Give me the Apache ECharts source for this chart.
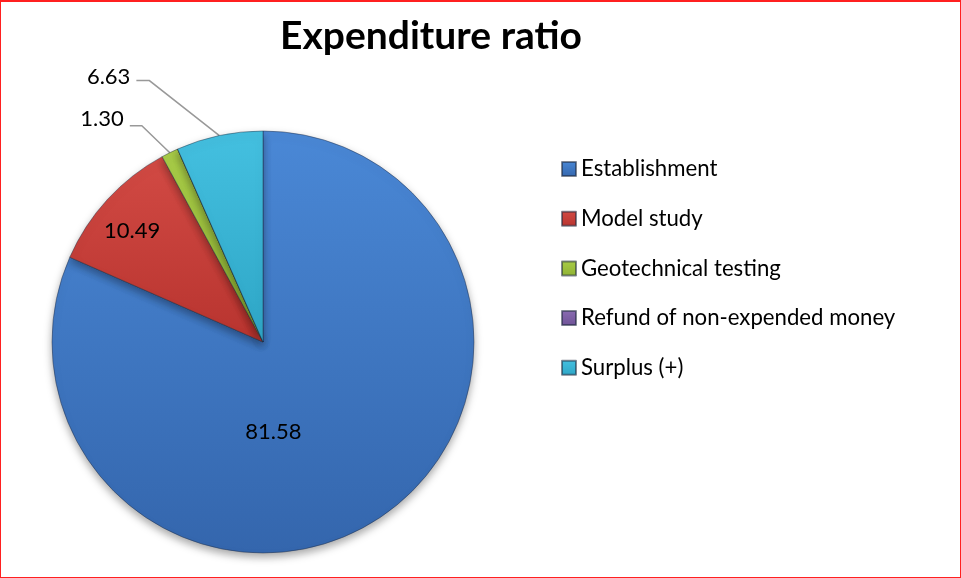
<!DOCTYPE html>
<html>
<head>
<meta charset="utf-8">
<script src="https://cdn.jsdelivr.net/npm/echarts@6/dist/echarts.min.js"></script>
<style>
  html, body { margin: 0; padding: 0; background: #fff; }
  #chart {
    width: 961px; height: 578px; box-sizing: border-box;
    border: 1px solid #ff2020; border-top-width: 2px;
  }
</style>
</head>
<body>
<div id="chart"></div>
<script>
// data
const categories = ['Establishment', 'Model study', 'Geotechnical testing', 'Refund of non-expended money', 'Surplus (+)'];
const values = [81.58, 10.49, 1.30, 0, 6.63];
const colorsTop = ['#4a88d6', '#d24a44', '#a8cc48', '#8a6cb2', '#44c0e0'];
const colorsBottom = ['#3466ad', '#b8342f', '#8fb233', '#6e5296', '#2ea6c6'];

// label tweaks (relative offsets, matching Excel's placement)
const insideOffsets = { 0: [-49, -1], 1: [-51, -38] };

const chart = echarts.init(document.getElementById('chart'));
const FONT = 'Lato';

const data = categories.map(function (name, i) {
  const item = {
    name: name,
    value: values[i],
    itemStyle: {
      color: {
        type: 'linear', x: 0, y: 0, x2: 0, y2: 1,
        colorStops: [
          { offset: 0, color: colorsTop[i] },
          { offset: 1, color: colorsBottom[i] }
        ]
      }
    }
  };
  if (values[i] === 0) {
    item.label = { show: false };
    item.labelLine = { show: false };
  } else if (insideOffsets[i]) {
    item.label = { position: 'inside', offset: insideOffsets[i] };
    item.labelLine = { show: false };
  }
  return item;
});

chart.setOption({
  animation: false,
  title: {
    text: 'Expenditure ratio',
    left: 425, top: 10, textAlign: 'center',
    textStyle: { fontFamily: FONT, fontWeight: 'bold', fontSize: 39, color: '#000' }
  },
  legend: {
    orient: 'vertical',
    left: 560, top: 155,
    padding: 0,
    itemWidth: 14, itemHeight: 14,
    itemGap: 25.7,
    icon: 'rect',
    textStyle: { fontFamily: FONT, fontSize: 22.2, color: '#000', lineHeight: 24 },
    data: categories
  },
  series: [{
    type: 'pie',
    center: [262, 340],
    radius: 211,
    startAngle: 90,
    clockwise: true,
    avoidLabelOverlap: false,
    itemStyle: {
      borderColor: 'rgba(30,40,60,0.55)',
      borderWidth: 0.8,
      shadowBlur: 8,
      shadowOffsetY: 4,
      shadowColor: 'rgba(0,0,0,0.35)'
    },
    label: {
      show: true,
      position: 'outside',
      fontFamily: FONT,
      fontSize: 22,
      color: '#000',
      formatter: function (p) { return p.value.toFixed(2); }
    },
    labelLine: {
      show: true,
      length: 20, length2: 12,
      lineStyle: { color: '#999', width: 1.5 }
    },
    labelLayout: function (p) {
      const pts = p.labelLinePoints;
      if (!pts) return {};
      const s = pts[0];
      if (p.dataIndex === 4) {
        return {
          x: s[0] - 89, y: s[1] - 59, align: 'right', verticalAlign: 'middle',
          labelLinePoints: [s, [s[0] - 70, s[1] - 55], [s[0] - 83, s[1] - 55]]
        };
      }
      if (p.dataIndex === 2) {
        return {
          x: s[0] - 46, y: s[1] - 34, align: 'right', verticalAlign: 'middle',
          labelLinePoints: [s, [s[0] - 28, s[1] - 27], [s[0] - 40, s[1] - 27]]
        };
      }
      return {};
    },
    data: data
  }]
});
</script>
</body>
</html>
